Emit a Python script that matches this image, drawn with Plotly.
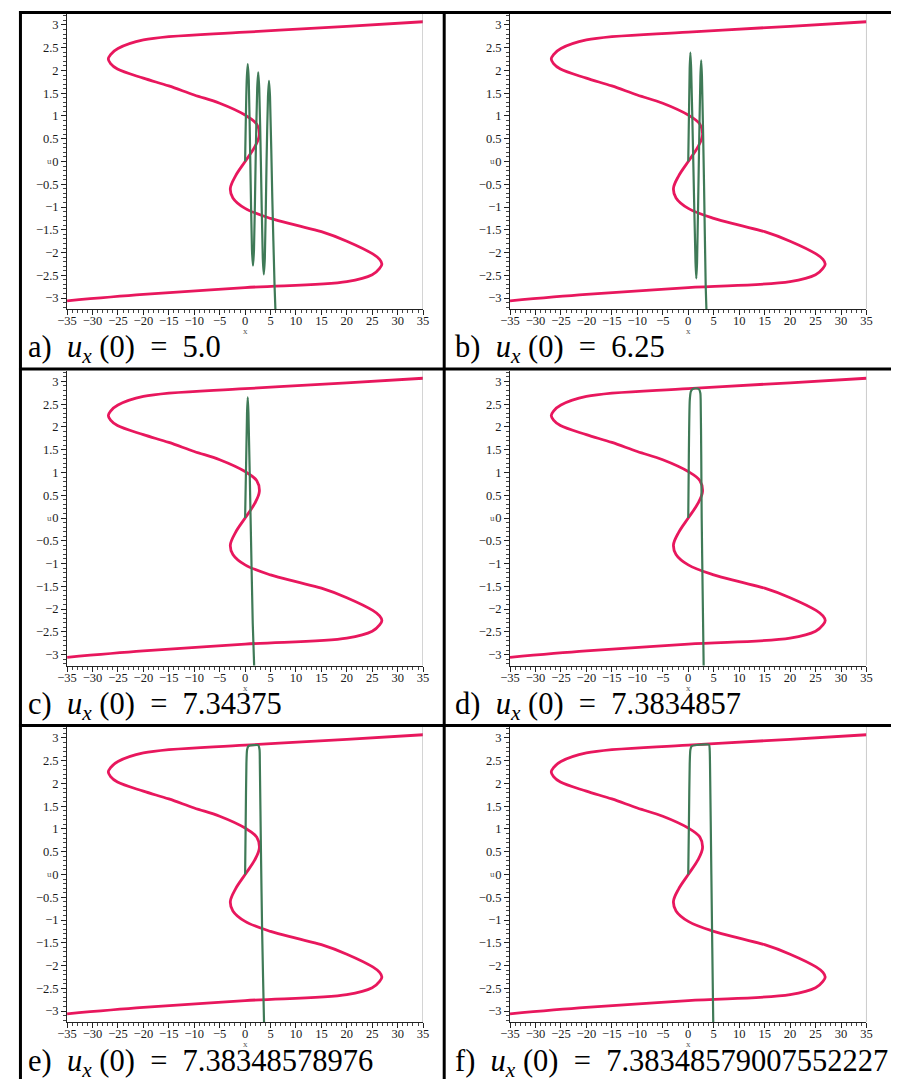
import plotly.graph_objects as go

# The page body keeps the browser's 8 px margin, so the figure is sized to the
# remaining window and every reference pixel position is shifted by OFF.
WIN_W, WIN_H = 899, 1079
OFF = 8
W, H = WIN_W - OFF, WIN_H - OFF

# ---------------- data ----------------
# S-shaped curve (same in every panel): u values and the x at each
PINK_U = [-3.06, -2.92, -2.77, -2.64, -2.49, -2.35, -2.25, -2.15, -2.03, -1.75,
          -1.54, -1.40, -1.25, -1.03, -0.80, -0.59, -0.32, 0.0, 0.32, 0.58, 0.82, 1.02,
          1.28, 1.46, 1.66, 1.83, 2.03, 2.15, 2.25, 2.35, 2.48, 2.67, 2.84, 2.97, 3.07]
PINK_X = [-35, -20, 0, 20, 25, 26.45, 26.9, 26.45, 25.1, 20,
          15, 10, 5, 0, -2.4, -2.9, -1.9, 0, 1.9, 2.8, 2.3, 0,
          -5, -10, -15, -20, -25.1, -26.45, -26.9, -26.45, -25, -20, 0, 20, 35]

# Shooting solutions (one per panel)
A_X = [0, 0.32, 0.52, 0.72, 1.03, 1.35, 1.55, 1.75, 2.07, 2.38, 2.58, 2.78, 3.10, 3.48,
       3.68, 3.88, 4.22, 4.50, 4.70, 4.90, 5.35, 5.80, 6.04]
A_U = [0, 1.79, 2.14, 1.79, -0.05, -1.94, -2.29, -1.94, 0, 1.61, 1.96, 1.61, 0, -2.13,
       -2.48, -2.13, 0, 1.42, 1.77, 1.42, -0.8, -2.75, -3.5]

B_X = [0, 0.28, 0.42, 0.57, 1.00, 1.43, 1.58, 1.73, 2.08, 2.39, 2.54, 2.69, 3.10, 3.43, 3.64]
B_U = [0, 2.04, 2.39, 2.04, -0.05, -2.22, -2.57, -2.22, 0, 1.87, 2.22, 1.87, -0.5, -2.75, -3.5]

C_X = [0, 0.38, 0.52, 0.66, 1.08, 1.50, 1.86]
C_U = [0, 2.30, 2.65, 2.30, 0, -2.30, -3.5]

D_X = [0, 0.12, 0.30, 0.52, 0.84, 1.45, 2.12, 2.38, 2.44, 2.55, 2.64, 2.84, 3.06]
D_U = [0, 1.40, 2.59, 2.78, 2.83, 2.85, 2.83, 2.74, 2.59, 1.40, 0, -1.70, -3.5]

E_X = [0, 0.12, 0.26, 0.39, 0.65, 1.60, 2.58, 2.84, 2.90, 3.12, 3.36, 3.74, 3.78]
E_U = [0, 1.20, 2.44, 2.74, 2.82, 2.84, 2.84, 2.74, 2.44, 0.5, -1.3, -3.34, -3.5]

F_X = [0, 0.14, 0.29, 0.42, 0.67, 2.40, 4.08, 4.21, 4.27, 4.54, 4.92, 4.95]
F_U = [0, 1.20, 2.44, 2.74, 2.82, 2.85, 2.85, 2.74, 2.44, 0, -3.34, -3.5]

PANEL_LETTERS = ["a", "b", "c", "d", "e", "f"]
UX0_VALUES = ["5.0", "6.25", "7.34375", "7.3834857", "7.38348578976", "7.38348579007552227"]

X_TICK_VALS = [-35, -30, -25, -20, -15, -10, -5, 0, 5, 10, 15, 20, 25, 30, 35]
X_TICK_TEXT = ["\u221235", "\u221230", "\u221225", "\u221220", "\u221215", "\u221210", "\u22125",
               "0", "5", "10", "15", "20", "25", "30", "35"]
Y_TICK_VALS = [-3, -2.5, -2, -1.5, -1, -0.5, 0, 0.5, 1, 1.5, 2, 2.5, 3]
Y_TICK_TEXT = ["\u22123", "\u22122.5", "\u22122", "\u22121.5", "\u22121", "\u22120.5", "0",
               "0.5", "1", "1.5", "2", "2.5", "3"]

GREENS = [(A_X, A_U), (B_X, B_U), (C_X, C_U), (D_X, D_U), (E_X, E_U), (F_X, F_U)]

# ---------------- styling / layout ----------------
PINK = "#e8175d"
GREEN = "#3f7a57"
SERIF = "Liberation Serif, Times New Roman, serif"

COL_PX = [(58, 420.5), (509, 872)]
ROW_PX = [(14, 309), (370.5, 665.5), (727, 1022)]
CAP_X = [16, 451]
CAP_BASE = [358, 714.5, 1071.5]
NB = "\u00a0"


def px(x):
    return (x - OFF) / W


def py(y):
    return 1 - (y - OFF) / H


fig = go.Figure()
layout = dict(
    width=W, height=H, margin=dict(l=0, r=0, t=0, b=0),
    paper_bgcolor="white", plot_bgcolor="white", showlegend=False,
    shapes=[], annotations=[],
)

for i in range(6):
    r, c = divmod(i, 2)
    n = i + 1
    xa = "x" if n == 1 else f"x{n}"
    ya = "y" if n == 1 else f"y{n}"
    gx, gu = GREENS[i]
    fig.add_trace(go.Scatter(x=PINK_X, y=PINK_U, mode="lines", xaxis=xa, yaxis=ya,
                             line=dict(color=PINK, width=2.8, shape="spline", smoothing=1.0),
                             hoverinfo="skip"))
    fig.add_trace(go.Scatter(x=gx, y=gu, mode="lines", xaxis=xa, yaxis=ya,
                             line=dict(color=GREEN, width=2.2, shape="spline", smoothing=0.6),
                             hoverinfo="skip"))
    x0, x1 = COL_PX[c]
    y0, y1 = ROW_PX[r]
    tickfont = dict(family=SERIF, size=12.5, color="#1a1a1a")
    layout["xaxis" if n == 1 else f"xaxis{n}"] = dict(
        domain=[px(x0), px(x1)], range=[-35, 35], anchor=ya,
        tickmode="array", tickvals=X_TICK_VALS, ticktext=X_TICK_TEXT,
        ticks="outside", ticklen=5, tickwidth=1, tickcolor="#222",
        minor=dict(ticks="outside", ticklen=3, tickwidth=1, tickcolor="#444", dtick=1, tick0=0),
        showgrid=False, zeroline=False, showline=True, linecolor="#222", linewidth=1,
        tickfont=tickfont, ticklabelstandoff=-5, fixedrange=True,
    )
    layout["yaxis" if n == 1 else f"yaxis{n}"] = dict(
        domain=[py(y1), py(y0)], range=[-3.24, 3.24], anchor=xa,
        tickmode="array", tickvals=Y_TICK_VALS, ticktext=Y_TICK_TEXT,
        ticks="outside", ticklen=5, tickwidth=1, tickcolor="#222",
        minor=dict(ticks="outside", ticklen=3, tickwidth=1, tickcolor="#444", dtick=0.1, tick0=0),
        showgrid=False, zeroline=False, showline=True, linecolor="#222", linewidth=1,
        tickfont=tickfont, fixedrange=True,
    )
    # right frame line
    layout["shapes"].append(dict(type="line", xref=xa, yref=f"{ya} domain", x0=35, x1=35, y0=0, y1=1,
                                 line=dict(color="#999", width=1)))
    # axis name labels
    layout["annotations"].append(dict(text="u", xref="paper", yref=ya, x=px(x0 - 18), y=0,
                                      xanchor="center", yanchor="middle", showarrow=False,
                                      font=dict(family=SERIF, size=9, color="#555")))
    layout["annotations"].append(dict(text="x", xref=xa, yref="paper", x=0, y=py(y1 + 22),
                                      xanchor="center", yanchor="middle", showarrow=False,
                                      font=dict(family=SERIF, size=9, color="#555")))
    # caption
    cap = (f"{PANEL_LETTERS[i]}){NB}{NB}<i>u</i><sub><i>x</i></sub>{NB}(0){NB}{NB}={NB}{NB}"
           f"{UX0_VALUES[i]}")
    layout["annotations"].append(dict(text=cap, xref="paper", yref="paper",
                                      x=px(CAP_X[c]), y=py(CAP_BASE[r] + 12),
                                      xanchor="left", yanchor="bottom", align="left",
                                      showarrow=False,
                                      font=dict(family=SERIF, size=30.5, color="black")))

# table borders
BLK = dict(color="black", width=3)
layout["shapes"] += [
    dict(type="line", xref="paper", yref="paper", x0=px(9), x1=px(WIN_W), y0=py(12.5), y1=py(12.5), line=BLK),
    dict(type="line", xref="paper", yref="paper", x0=px(9), x1=px(WIN_W), y0=py(369), y1=py(369), line=BLK),
    dict(type="line", xref="paper", yref="paper", x0=px(9), x1=px(WIN_W), y0=py(725.5), y1=py(725.5), line=BLK),
    dict(type="line", xref="paper", yref="paper", x0=px(10.5), x1=px(10.5), y0=py(11), y1=py(WIN_H), line=BLK),
    dict(type="line", xref="paper", yref="paper", x0=px(442), x1=px(442), y0=py(11), y1=py(WIN_H), line=BLK),
]

fig.update_layout(**layout)
fig.write_html("out.html")
